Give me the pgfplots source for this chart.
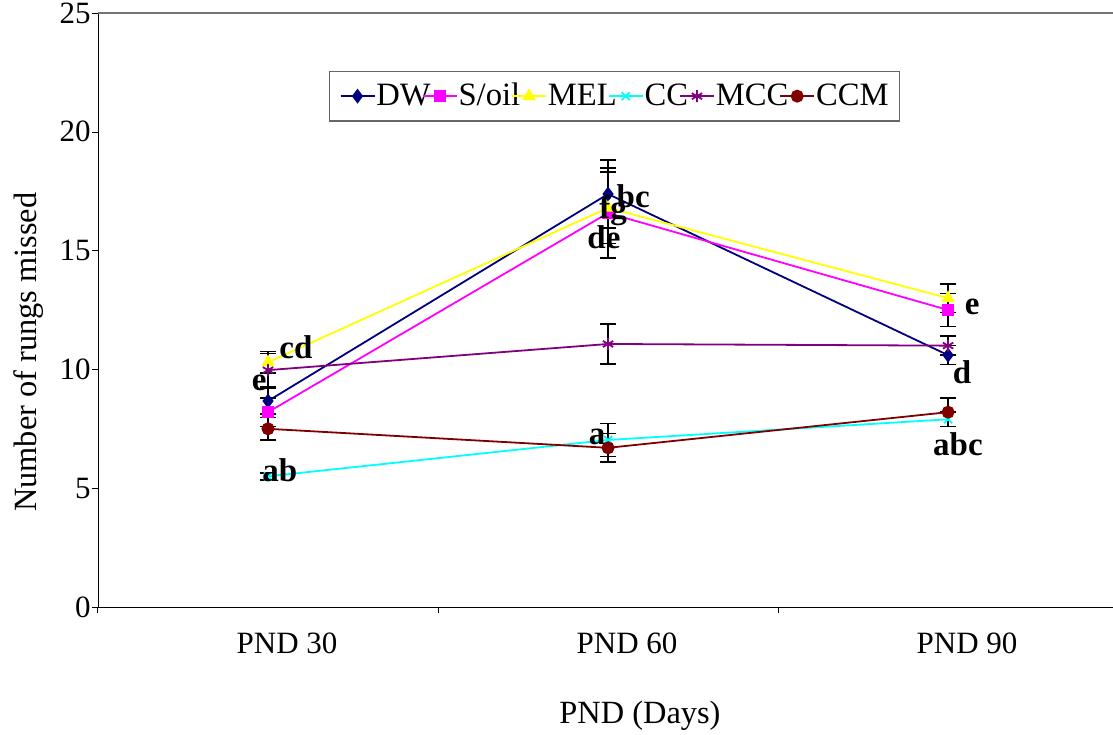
\documentclass[border=0pt]{standalone}
\usepackage{pgfplots}
\pgfplotsset{compat=1.18}
\usepackage{pgfplotstable}
\usepackage{fontspec}
\setmainfont{Liberation Serif}

\definecolor{cDW}{RGB}{0,0,128}
\definecolor{cSO}{RGB}{255,0,255}
\definecolor{cMEL}{RGB}{255,255,0}
\definecolor{cCC}{RGB}{0,255,255}
\definecolor{cMCC}{RGB}{128,0,128}
\definecolor{cCCM}{RGB}{128,0,0}

% mean number of rungs missed and error, per treatment group
\pgfplotstableread{
x y e
0 8.67 0.55
1 17.38 1.43
2 10.6 0.40
}\dw
\pgfplotstableread{
x y e
0 8.2 0.60
1 16.58 1.90
2 12.5 0.70
}\soil
\pgfplotstableread{
x y e
0 10.3 0.45
1 16.8 1.50
2 13.0 0.60
}\mel
\pgfplotstableread{
x y e
0 5.5 0.15
1 7.03 0.70
2 7.9 0.30
}\cc
\pgfplotstableread{
x y e
0 9.97 0.70
1 11.07 0.85
2 11.0 0.40
}\mcc
\pgfplotstableread{
x y e
0 7.5 0.47
1 6.7 0.60
2 8.2 0.60
}\ccm

\begin{document}
\begin{tikzpicture}
\path[use as bounding box] (-49pt,-63.5pt) rectangle (507.5pt,303.5pt);
\begin{axis}[
  at={(0pt,0pt)}, anchor=south west,
  scale only axis, width=507.5pt, height=297pt,
  xmin=-0.5, xmax=2.485, ymin=0, ymax=25,
  axis lines=left, axis line style={black, -},
  clip=false,
  font=\fontsize{15.5}{18}\selectfont,
  ytick={0,5,...,25},
  xtick={0,1,2}, xticklabels={PND 30,PND 60,PND 90},
  minor xtick={-0.5,0.5,1.5},
  x tick style={draw=none},
  minor x tick style={draw=black, line width=0.5pt},
  y tick style={black},
  tick align=outside,
  major tick length=3pt, minor tick length=3pt,
  /pgf/number format/assume math mode=true,
  yticklabel style={inner sep=0.5pt},
  xticklabel style={yshift=-6.5pt, xshift=9.5pt},
  xlabel={PND (Days)}, ylabel={Number of rungs missed},
  every axis x label/.style={at={(axis description cs:0.534,-0.1835)}, anchor=center, font=\fontsize{16.2}{18}\selectfont},
  every axis y label/.style={at={(axis description cs:-0.0685,0.429)}, rotate=90, anchor=center, font=\fontsize{16.2}{18}\selectfont},
  every axis plot/.append style={line width=0.9pt},
  error bars/y dir=both, error bars/y explicit,
  error bars/error bar style={black, line width=0.8pt},
  error bars/error mark options={black, rotate=90, mark size=4pt, line width=0.8pt},
  legend columns=-1,
  legend style={at={(rel axis cs:0.509,0.860)}, anchor=center,
    draw=black!60, line width=0.8pt,
    font=\fontsize{16.3}{18}\selectfont,
    inner xsep=5pt, inner ysep=4pt,
    nodes={inner xsep=0.5pt, inner ysep=2pt},
    /tikz/every even column/.append style={column sep=-5pt}},
  legend image code/.code={
    \draw[mark repeat=2, mark phase=2, #1] plot coordinates {(0pt,0pt) (8.5pt,0pt) (17pt,0pt)};
  },
]
\addplot[cDW, mark=diamond*, mark size=3pt, mark options={solid, fill=cDW}]
  table[x=x, y=y, y error=e] {\dw};
\addplot[cSO, mark=square*, mark size=2.6pt, mark options={solid, fill=cSO}]
  table[x=x, y=y, y error=e] {\soil};
\addplot[cMEL, mark=triangle*, mark size=3pt, mark options={solid, fill=cMEL}]
  table[x=x, y=y, y error=e] {\mel};
\addplot[cCC, mark=x, mark size=2.8pt, mark options={solid, line width=0.9pt}]
  table[x=x, y=y, y error=e] {\cc};
\addplot[cMCC, mark=asterisk, mark size=3pt, mark options={solid, line width=0.9pt}]
  table[x=x, y=y, y error=e] {\mcc};
\addplot[cCCM, mark=*, mark size=2.8pt, mark options={solid, fill=cCCM}]
  table[x=x, y=y, y error=e] {\ccm};
\legend{DW,S/oil,MEL,CC,MCC,CCM}

% upper frame edge
\draw[black!55, line width=0.8pt] (rel axis cs:0,1) -- (rel axis cs:1,1);

% anchors for the group letters
\coordinate (L1) at (axis cs:0.082,10.94);
\coordinate (L2) at (axis cs:-0.026,9.43);
\coordinate (L3) at (axis cs:0.035,5.77);
\coordinate (L4) at (axis cs:1.074,17.3);
\coordinate (L5) at (axis cs:1.015,16.67);
\coordinate (L6) at (axis cs:0.988,15.57);
\coordinate (L7) at (axis cs:0.968,7.15);
\coordinate (L8) at (axis cs:2.071,12.63);
\coordinate (L9) at (axis cs:2.041,9.89);
\coordinate (L10) at (axis cs:2.029,6.86);
\end{axis}
% group letters, set above the curves
\begin{scope}[font=\bfseries\fontsize{16.5}{18}\selectfont, inner sep=0pt]
\node at (L1) {cd};
\node at (L2) {e};
\node at (L3) {ab};
\node at (L4) {bc};
\node at (L5) {fg};
\node at (L6) {de};
\node at (L7) {a};
\node at (L8) {e};
\node at (L9) {d};
\node at (L10) {abc};
\end{scope}
\end{tikzpicture}
\end{document}
